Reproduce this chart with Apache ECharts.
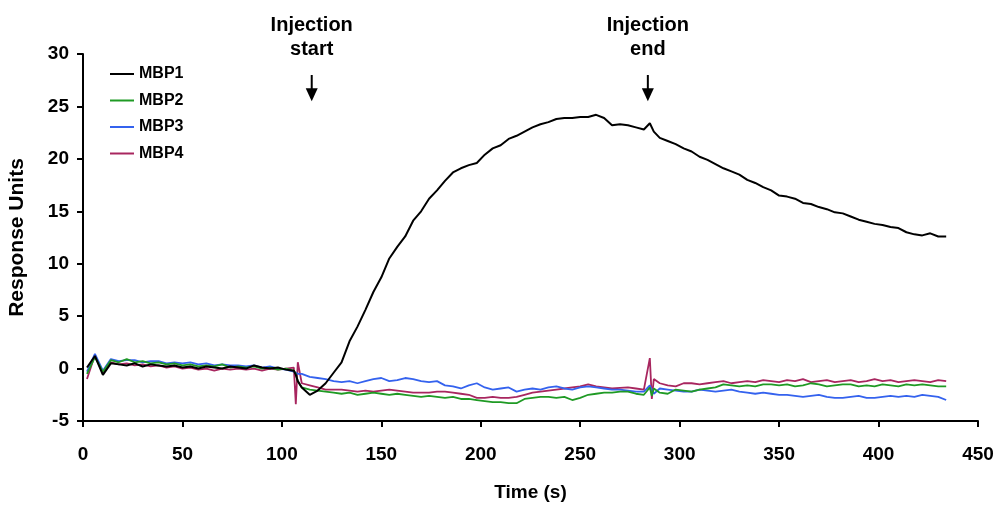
<!DOCTYPE html>
<html>
<head>
<meta charset="utf-8">
<script src="https://cdn.jsdelivr.net/npm/echarts@6/dist/echarts.min.js"></script>
<style>
html,body{margin:0;padding:0;background:#fff;}
#chart{width:1000px;height:506px;}
</style>
</head>
<body>
<div id="chart"></div>
<script>
// Time (s)
const timeS = [
  2,6,10,14,18,22,26,30,34,38,
  42,46,50,54,58,62,66,70,74,78,
  82,86,90,94,98,102,106,107,108,110,
  114,118,122,126,130,134,138,142,146,150,
  154,158,162,166,170,174,178,182,186,190,
  194,198,202,206,210,214,218,222,226,230,
  234,238,242,246,250,254,258,262,266,270,
  274,278,282,285,286,287,290,294,298,302,
  306,310,314,318,322,326,330,334,338,342,
  346,350,354,358,362,366,370,374,378,382,
  386,390,394,398,402,406,410,414,418,422,
  426,430,434
];
const mbp1 = [
  0.1,1.2,-0.6,0.5,0.4,0.3,0.5,0.2,0.4,0.3,
  0.2,0.3,0.1,0.2,0.0,0.2,0.1,0.0,0.2,0.1,
  0.0,0.3,0.1,0.0,0.1,-0.1,-0.2,-0.6,-1.2,-1.8,
  -2.5,-2.1,-1.4,-0.4,0.6,2.6,4.0,5.6,7.3,8.7,
  10.5,11.6,12.6,14.1,15.0,16.2,17.0,17.9,18.7,19.1,
  19.4,19.6,20.4,21.0,21.3,21.9,22.2,22.6,23.0,23.3,
  23.5,23.8,23.9,23.9,24.0,24.0,24.2,23.9,23.2,23.3,
  23.2,23.0,22.8,23.4,23.3,22.6,22.0,21.7,21.4,21.0,
  20.7,20.2,19.9,19.5,19.1,18.8,18.5,18.0,17.7,17.3,
  17.0,16.5,16.4,16.2,15.8,15.7,15.4,15.2,14.9,14.8,
  14.5,14.2,14.0,13.8,13.7,13.5,13.4,13.0,12.8,12.7,
  12.9,12.6,12.6
];
const mbp2 = [
  -0.5,1.1,-0.3,0.8,0.6,0.9,0.6,0.7,0.5,0.6,
  0.4,0.5,0.3,0.4,0.2,0.3,0.2,0.4,0.1,0.2,
  0.1,0.2,0.0,0.1,-0.1,0.0,-0.2,-0.5,-1.2,-1.8,
  -2.0,-2.1,-2.2,-2.3,-2.4,-2.3,-2.5,-2.4,-2.3,-2.4,
  -2.5,-2.4,-2.5,-2.6,-2.7,-2.6,-2.7,-2.8,-2.7,-2.9,
  -2.9,-3.0,-3.1,-3.2,-3.2,-3.3,-3.3,-2.9,-2.8,-2.7,
  -2.7,-2.8,-2.7,-3.0,-2.8,-2.5,-2.4,-2.3,-2.3,-2.2,
  -2.2,-2.4,-2.5,-1.8,-2.6,-1.9,-2.3,-2.4,-2.0,-2.1,
  -2.2,-2.0,-1.9,-1.8,-1.5,-1.6,-1.7,-1.6,-1.7,-1.5,
  -1.5,-1.6,-1.5,-1.7,-1.6,-1.4,-1.5,-1.7,-1.6,-1.5,
  -1.5,-1.7,-1.6,-1.7,-1.5,-1.6,-1.7,-1.5,-1.6,-1.5,
  -1.6,-1.7,-1.7
];
const mbp3 = [
  -0.3,1.4,-0.2,0.9,0.7,0.8,0.8,0.6,0.7,0.7,
  0.5,0.6,0.5,0.6,0.4,0.5,0.3,0.4,0.3,0.3,
  0.2,0.3,0.1,0.2,0.0,-0.1,-0.3,-0.3,-0.5,-0.5,
  -0.8,-0.9,-1.0,-1.2,-1.3,-1.2,-1.4,-1.2,-1.0,-0.9,
  -1.2,-1.1,-0.9,-1.0,-1.2,-1.3,-1.2,-1.6,-1.7,-1.9,
  -1.6,-1.4,-1.8,-2.0,-1.9,-1.8,-2.2,-2.0,-1.9,-2.0,
  -1.8,-1.7,-1.9,-2.0,-1.8,-1.7,-1.8,-1.9,-2.0,-2.0,
  -2.1,-2.2,-2.2,-1.6,-2.0,-2.4,-1.9,-2.0,-2.1,-2.2,
  -2.2,-2.0,-2.1,-2.2,-2.1,-2.0,-2.2,-2.3,-2.4,-2.3,
  -2.4,-2.5,-2.5,-2.6,-2.7,-2.6,-2.5,-2.7,-2.8,-2.8,
  -2.7,-2.6,-2.8,-2.8,-2.7,-2.6,-2.7,-2.6,-2.7,-2.5,
  -2.6,-2.7,-3.0
];
const mbp4 = [
  -1.0,1.3,-0.5,0.6,0.4,0.5,0.3,0.4,0.2,0.3,
  0.1,0.2,0.0,0.1,-0.1,0.0,-0.2,0.0,-0.1,0.0,
  -0.1,0.0,-0.2,0.0,-0.1,0.0,0.1,-3.4,0.6,-1.4,
  -1.6,-1.8,-2.0,-2.0,-2.0,-2.1,-2.2,-2.1,-2.2,-2.1,
  -2.0,-2.1,-2.2,-2.3,-2.3,-2.3,-2.2,-2.2,-2.3,-2.4,
  -2.5,-2.8,-2.8,-2.7,-2.8,-2.8,-2.7,-2.5,-2.3,-2.2,
  -2.1,-2.0,-1.9,-1.8,-1.7,-1.5,-1.7,-1.8,-1.9,-1.85,
  -1.8,-1.9,-2.0,1.0,-2.9,-1.0,-1.4,-1.6,-1.7,-1.4,
  -1.4,-1.5,-1.4,-1.3,-1.2,-1.4,-1.3,-1.2,-1.3,-1.1,
  -1.2,-1.3,-1.1,-1.2,-1.0,-1.3,-1.2,-1.1,-1.3,-1.2,
  -1.1,-1.3,-1.2,-1.0,-1.2,-1.1,-1.3,-1.2,-1.1,-1.2,
  -1.3,-1.1,-1.2
];
const seriesNames = ['MBP1','MBP2','MBP3','MBP4'];
const seriesColors = ['#000000','#1f9a24','#3462ee','#a8265f'];
const xTicks = {min:0, max:450, interval:50};
const yTicks = {min:-5, max:30, interval:5};
const annotTimes = [115, 284];
const annotLabels = ['Injection\nstart','Injection\nend'];
const arrowTopY = 28.0;
const arrowTipY = 25.5;

const FONT = '"Liberation Sans", Arial, sans-serif';
const allVals = [mbp1, mbp2, mbp3, mbp4];

const chart = echarts.init(document.getElementById('chart'), null, {renderer:'canvas'});
const option = {
  animation: false,
  backgroundColor: '#fff',
  grid: {left: 83, right: 22, top: 54, bottom: 85, containLabel: false, outerBoundsMode: 'none'},
  legend: {
    orient: 'vertical', left: 105, top: 61, itemWidth: 24, itemHeight: 2, itemGap: 10.5,
    icon: 'rect',
    data: seriesNames,
    textStyle: {fontFamily: FONT, fontWeight: 'bold', fontSize: 16, color: '#000'}
  },
  xAxis: {
    type: 'value', min: xTicks.min, max: xTicks.max, interval: xTicks.interval,
    name: 'Time (s)', nameLocation: 'middle', nameGap: 62,
    nameTextStyle: {fontFamily: FONT, fontWeight: 'bold', fontSize: 19, color: '#000'},
    axisLine: {show: true, onZero: false, lineStyle: {color: '#000', width: 2}},
    axisTick: {show: true, length: 6, lineStyle: {color: '#000', width: 2}},
    axisLabel: {fontFamily: FONT, fontWeight: 'bold', fontSize: 19, color: '#000', margin: 24},
    splitLine: {show: false}
  },
  yAxis: {
    type: 'value', min: yTicks.min, max: yTicks.max, interval: yTicks.interval,
    name: 'Response Units', nameLocation: 'middle', nameGap: 55, nameRotate: 90,
    nameTextStyle: {fontFamily: FONT, fontWeight: 'bold', fontSize: 21, color: '#000'},
    axisLine: {show: true, onZero: false, lineStyle: {color: '#000', width: 2}},
    axisTick: {show: true, length: 6, lineStyle: {color: '#000', width: 2}},
    axisLabel: {fontFamily: FONT, fontWeight: 'bold', fontSize: 19, color: '#000', margin: 14},
    splitLine: {show: false}
  },
  series: seriesNames.map((n, i) => ({
    name: n, type: 'line', symbol: 'none', showSymbol: false,
    data: timeS.map((t, j) => [t, allVals[i][j]]),
    lineStyle: {color: seriesColors[i], width: i === 0 ? 2 : 1.8},
    itemStyle: {color: seriesColors[i]},
    z: i === 0 ? 5 : 4 - i + 1
  }))
};
chart.setOption(option);

const graphics = [];
annotTimes.forEach((t, i) => {
  const top = chart.convertToPixel({gridIndex: 0}, [t, arrowTopY]);
  const tip = chart.convertToPixel({gridIndex: 0}, [t, arrowTipY]);
  graphics.push({
    type: 'text', x: top[0], y: top[1] - 37,
    style: {text: annotLabels[i], fontFamily: FONT, fontWeight: 'bold', fontSize: 20,
            lineHeight: 24, align: 'center', verticalAlign: 'middle', fill: '#000'}
  });
  graphics.push({
    type: 'line', shape: {x1: top[0], y1: top[1], x2: top[0], y2: tip[1] - 8},
    style: {stroke: '#000', lineWidth: 2}
  });
  graphics.push({
    type: 'polygon',
    shape: {points: [[top[0] - 6, tip[1] - 13], [top[0] + 6, tip[1] - 13], [top[0], tip[1]]]},
    style: {fill: '#000'}
  });
});
chart.setOption({graphic: graphics});
</script>
</body>
</html>
